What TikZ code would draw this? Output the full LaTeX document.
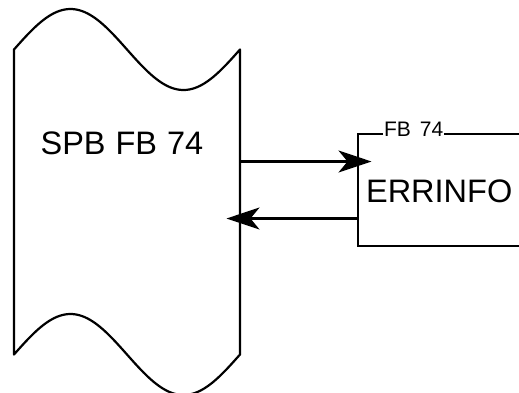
\documentclass[tikz,border=0pt]{standalone}
\usepackage{fontspec}
\setmainfont{Liberation Sans}
\usepackage{tikz}
\usetikzlibrary{arrows.meta}

\begin{document}
\begin{tikzpicture}[x=1pt, y=-1pt, line width=2.2pt,
        flecha/.style={-{Stealth[length=33pt, width=22pt, inset=9pt]}, shorten >=-13.5pt},
        txtgrande/.style={inner sep=0pt, font={\fontsize{32.5}{39}\selectfont\spaceskip 10pt\relax}},
        txtchico/.style={inner sep=0pt, font={\fontsize{21}{25}\selectfont\spaceskip 9pt\relax}}]
        \useasboundingbox (0,0) rectangle (519,392);
        % bloque SPB con bordes ondulados (un periodo de seno arriba y abajo)
        \draw[line join=round, samples=90]
            plot[domain=14:240] (\x, {49.5-40.5*sin(1.593*(\x-14))})
            -- plot[domain=240:14] (\x, {354.5-40.5*sin(1.593*(\x-14))})
            -- cycle;
        \node[txtgrande, anchor=base west] (spb) at (39.5,154) {SPB FB 74};
        % bloque ERRINFO (abierto a la derecha)
        \coordinate (errNO) at (358,134);
        \coordinate (errSO) at (358,246);
        \coordinate (errNE) at (521,134);
        \coordinate (errSE) at (521,246);
        \node[txtchico, anchor=base west] (fb) at (383,136.5) {FB 74};
        \node[txtgrande, anchor=base west] (errinfo) at (365,202.5) {ERRINFO};
        \draw (fb.west |- errNO) -- (errNO) -- (errSO) -- (errSE);
        \draw (fb.east |- errNO) -- (errNE);
        % flechas entre bloques
        \coordinate (spbA) at (240,161.5);
        \coordinate (errA) at (358,161.5);
        \coordinate (spbB) at (240,218.5);
        \coordinate (errB) at (358,218.5);
        \draw[flecha] (spbA) -- (errA);
        \draw[flecha] (errB) -- (spbB);
    \end{tikzpicture}
\end{document}
